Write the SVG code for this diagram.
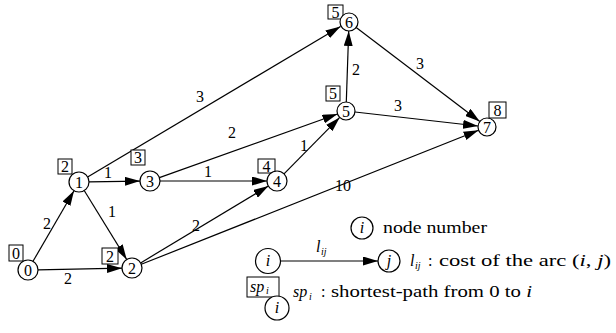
<svg xmlns="http://www.w3.org/2000/svg" width="616" height="333" viewBox="0 0 616 333" font-family="'Liberation Serif', serif">
<style>
.n{fill:#fff;stroke:#000;stroke-width:1.2}
.b{fill:#fff;stroke:#000;stroke-width:1}
.t{font-family:"Liberation Serif","DejaVu Serif",serif;font-size:16px;fill:#000}
.c{text-anchor:middle}
.i{font-style:italic}
.s{font-size:10px;font-style:italic}
.e{stroke:#000;stroke-width:1.2;fill:none;marker-end:url(#ah)}
</style>
<defs>
<marker id="ah" markerUnits="userSpaceOnUse" markerWidth="15" markerHeight="9" refX="15" refY="4.5" orient="auto">
<path d="M0,0 L15,4.5 L0,9 z" fill="#000"/>
</marker>
</defs>
<rect width="616" height="333" fill="#fff"/>
<g id="edges">
<line class="e" x1="33" y1="261.3" x2="74" y2="190.7"/>
<line class="e" x1="38" y1="269.8" x2="122" y2="268.2"/>
<line class="e" x1="84.2" y1="190.5" x2="126.7" y2="259.5"/>
<line class="e" x1="89" y1="181.9" x2="140" y2="181.1"/>
<line class="e" x1="87.6" y1="176.9" x2="340.5" y2="26.6"/>
<line class="e" x1="160" y1="181" x2="267" y2="181"/>
<line class="e" x1="159.4" y1="177.6" x2="337.5" y2="114"/>
<line class="e" x1="284" y1="173.9" x2="339.7" y2="117.4"/>
<line class="e" x1="140.6" y1="262.9" x2="268.4" y2="186.1"/>
<line class="e" x1="141.3" y1="264.3" x2="478.6" y2="130.3"/>
<line class="e" x1="346.3" y1="102" x2="348.7" y2="31"/>
<line class="e" x1="356.2" y1="27.5" x2="479.8" y2="121.5"/>
<line class="e" x1="355" y1="112" x2="478" y2="126"/>
<text class="t c" x="47" y="229">2</text>
<text class="t c" x="68" y="284">2</text>
<text class="t c" x="112" y="217">1</text>
<text class="t c" x="108" y="178">1</text>
<text class="t c" x="200" y="102">3</text>
<text class="t c" x="232" y="138">2</text>
<text class="t c" x="208" y="177">1</text>
<text class="t c" x="304" y="151">1</text>
<text class="t c" x="196" y="231">2</text>
<text class="t c" x="343" y="191" textLength="16" lengthAdjust="spacingAndGlyphs">10</text>
<text class="t c" x="356" y="75">2</text>
<text class="t c" x="420" y="69">3</text>
<text class="t c" x="398" y="111">3</text>
</g>
<g id="node0"><rect class="b" x="9" y="245" width="14" height="16"/><text class="t c" x="16" y="258.5">0</text><circle class="n" cx="28" cy="270" r="10"/><text class="t c" x="28" y="275.5">0</text></g>
<g id="node1"><rect class="b" x="58" y="159" width="14" height="15"/><text class="t c" x="65" y="172">2</text><circle class="n" cx="79" cy="182" r="10"/><text class="t c" x="79" y="187.5">1</text></g>
<g id="node2"><rect class="b" x="102" y="248" width="16" height="16"/><text class="t c" x="110" y="261.5">2</text><circle class="n" cx="132" cy="268" r="10"/><text class="t c" x="132" y="273.5">2</text></g>
<g id="node3"><rect class="b" x="131" y="150" width="14" height="15"/><text class="t c" x="138" y="163">3</text><circle class="n" cx="150" cy="181" r="10"/><text class="t c" x="150" y="186.5">3</text></g>
<g id="node4"><rect class="b" x="258" y="159" width="17" height="14"/><text class="t c" x="266.5" y="171.5">4</text><circle class="n" cx="277" cy="181" r="10"/><text class="t c" x="277" y="186.5">4</text></g>
<g id="node5"><rect class="b" x="326" y="86" width="14" height="15"/><text class="t c" x="333" y="99">5</text><circle class="n" cx="346" cy="111" r="9"/><text class="t c" x="346" y="116.5">5</text></g>
<g id="node6"><rect class="b" x="328" y="5" width="15" height="14"/><text class="t c" x="335.5" y="17.5">5</text><circle class="n" cx="349" cy="22" r="9"/><text class="t c" x="349" y="27.5">6</text></g>
<g id="node7"><rect class="b" x="489" y="102" width="17" height="16"/><text class="t c" x="497.5" y="115.5">8</text><circle class="n" cx="487" cy="127" r="9"/><text class="t c" x="487" y="132.5">7</text></g>
<g id="legend">
<circle class="n" cx="362" cy="228" r="11"/><text class="t c i" x="362" y="233">i</text>
<text class="t" x="383" y="233" textLength="104" lengthAdjust="spacingAndGlyphs">node number</text>
<line class="e" x1="281" y1="261" x2="378" y2="261"/>
<circle class="n" cx="268" cy="261" r="12.5"/><text class="t c i" x="268" y="266">i</text>
<circle class="n" cx="389" cy="261" r="11"/><text class="t c i" x="389" y="266">j</text>
<text class="t i" x="316" y="252">l</text><text class="t s" x="321" y="255">ij</text>
<text class="t i" x="410" y="266">l</text><text class="t s" x="415" y="269">ij</text>
<text class="t" x="428" y="266">:</text>
<text class="t" x="439" y="266" textLength="172" lengthAdjust="spacingAndGlyphs">cost of the arc (<tspan class="i">i</tspan>, <tspan class="i">j</tspan>)</text>
<rect class="b" x="247" y="277" width="32" height="20"/><text class="t i" x="250" y="292">sp</text><text class="t s" x="266" y="294">i</text>
<circle class="n" cx="277" cy="308" r="12"/><text class="t c i" x="277" y="313">i</text>
<text class="t i" x="293" y="297">sp</text><text class="t s" x="309" y="300">i</text>
<text class="t" x="321" y="297">:</text>
<text class="t" x="331" y="297" textLength="201" lengthAdjust="spacingAndGlyphs">shortest-path from 0 to <tspan class="i">i</tspan></text>
</g>
</svg>
